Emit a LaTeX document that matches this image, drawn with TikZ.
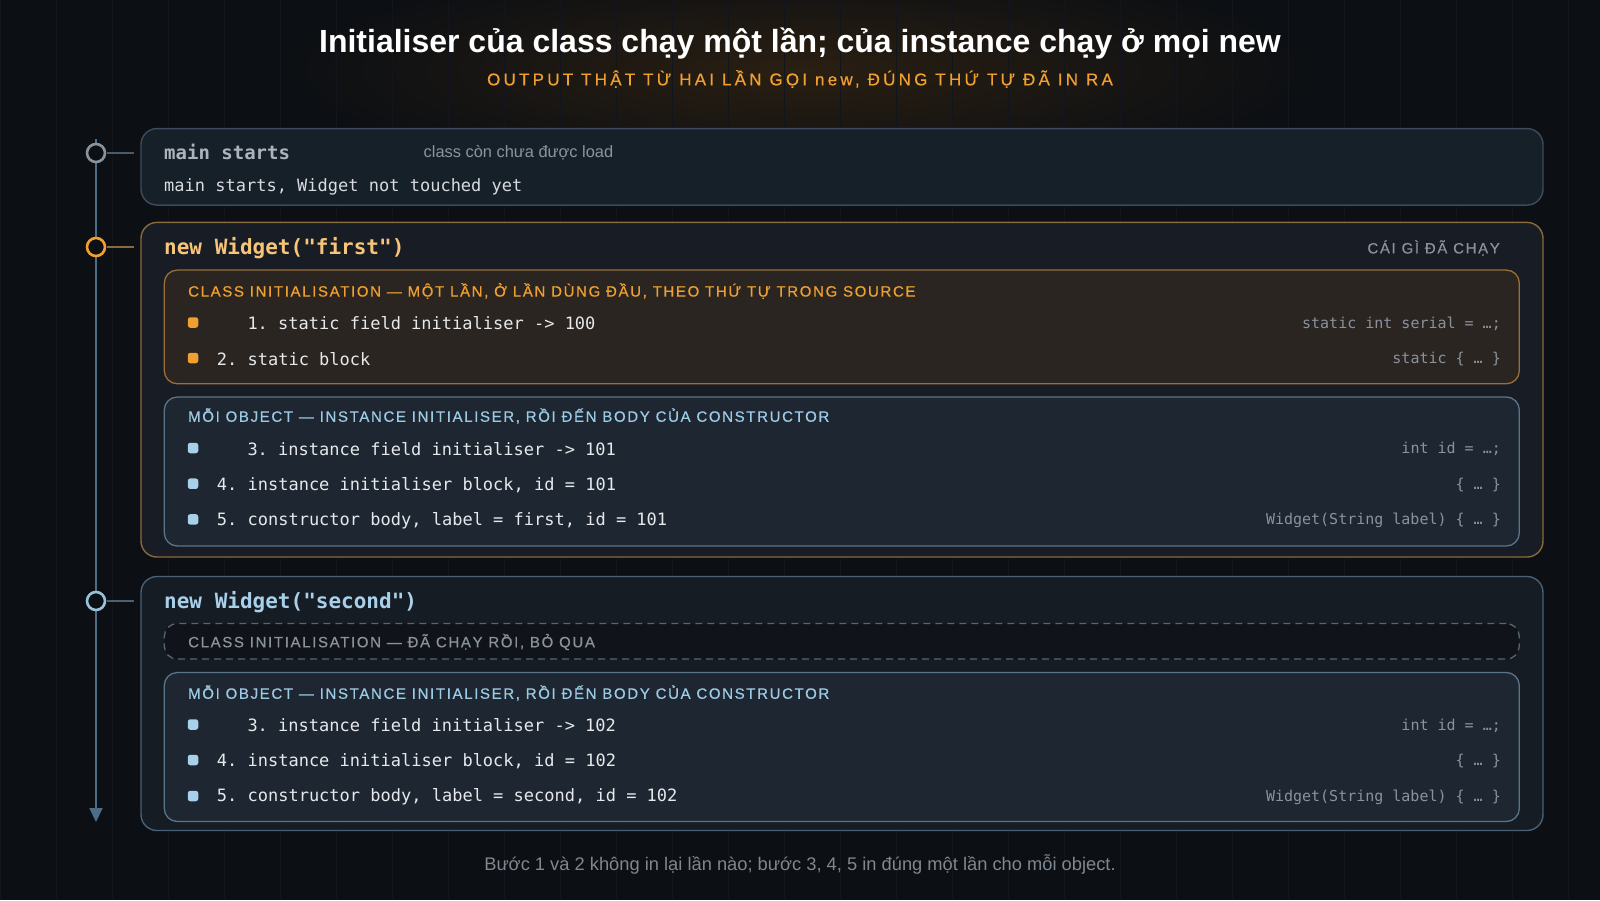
\documentclass[tikz,border=0pt]{standalone}
\usepackage{fontspec}
\setmainfont{Liberation Sans}
\setmonofont{DejaVu Sans Mono}
\newfontfamily\capsfont[LetterSpace=11,FakeBold=0.5]{Liberation Sans}
\newfontfamily\subfont[LetterSpace=19,FakeBold=0.5]{Liberation Sans}
\usetikzlibrary{arrows.meta}

\definecolor{bg}{HTML}{0C0F13}
\definecolor{gridc}{HTML}{12161C}
\definecolor{glow}{HTML}{2A1F12}
\definecolor{orange}{HTML}{F0A030}
\definecolor{paleorange}{HTML}{F6C57A}
\definecolor{paleblue}{HTML}{A8D0EA}
\definecolor{bluelabel}{HTML}{9CCBE6}
\definecolor{rowtext}{HTML}{E6E8EB}
\definecolor{codegrey}{HTML}{8A929C}
\definecolor{notegrey}{HTML}{8C949E}
\definecolor{linec}{HTML}{4C6D88}
\definecolor{boxafill}{HTML}{162029}
\definecolor{boxaline}{HTML}{3C4C5C}
\definecolor{boxbfill}{HTML}{181C24}
\definecolor{boxbline}{HTML}{8A6A3C}
\definecolor{ofill}{HTML}{2A2521}
\definecolor{oline}{HTML}{9A6E36}
\definecolor{bfill}{HTML}{1E2731}
\definecolor{bline}{HTML}{5A7488}
\definecolor{boxcfill}{HTML}{161C24}
\definecolor{boxcline}{HTML}{4A6074}
\definecolor{dline}{HTML}{5A6470}

\begin{document}
\begin{tikzpicture}[x=1pt,y=-1pt,
  panel/.style={draw, rounded corners=16pt, line width=1.4pt, minimum width=1402pt, inner sep=0pt},
  inner/.style={draw, rounded corners=13pt, line width=1.3pt, minimum width=1355pt, inner sep=0pt},
  dot/.style={shape=circle, draw, fill=bg, line width=2.6pt, minimum size=18pt, inner sep=0pt},
  bullet/.style={fill, rounded corners=2.5pt, minimum size=10.5pt, inner sep=0pt},
  row/.style={anchor=west, inner sep=0pt, yshift=-1pt, text=rowtext, font=\ttfamily\fontsize{17}{20}\selectfont},
  code/.style={anchor=east, inner sep=0pt, yshift=-1pt, text=codegrey, font=\ttfamily\fontsize{15}{18}\selectfont},
  tag/.style={anchor=west, inner sep=0pt, font=\capsfont\fontsize{15}{18}\selectfont}]

\useasboundingbox (0,0) rectangle (1600,900);
\fill[bg] (0,0) rectangle (1600,900);
\shade[inner color=glow, outer color=bg] (800,70) ellipse (520 and 110);
\draw[gridc, line width=0.6pt] (0,0) grid[step=56] (1600,900);

% title
\node[inner sep=0pt, text=white, font=\bfseries\fontsize{32}{37}\selectfont] (title) at (800,44) {Initialiser của class chạy một lần; của instance chạy ở mọi new};
\node[inner sep=0pt, text=orange, font=\subfont\fontsize{17}{20}\selectfont] (subtitle) at (800,79) {OUTPUT THẬT TỪ HAI LẦN GỌI new, ĐÚNG THỨ TỰ ĐÃ IN RA};

% panels
\node[panel, fill=boxafill, draw=boxaline, minimum height=76.5pt] (mainbox) at (842,166.8) {};
\node[panel, fill=boxbfill, draw=boxbline, minimum height=334.6pt] (firstbox) at (842,389.7) {};
\node[inner, fill=ofill, draw=oline, minimum height=113.7pt] (firstclass) at (841.8,326.9) {};
\node[inner, fill=bfill, draw=bline, minimum height=149pt] (firstobj) at (841.8,471.5) {};
\node[panel, fill=boxcfill, draw=boxcline, minimum height=254pt] (secondbox) at (842,703.5) {};
\node[inner, fill=bg!60!boxcfill, draw=dline, dashed, dash pattern=on 7pt off 5pt, minimum height=35.5pt] (secondclass) at (841.8,641.3) {};
\node[inner, fill=bfill, draw=bline, minimum height=149pt] (secondobj) at (841.8,747) {};

% timeline
\coordinate (tltop) at (96,139);
\coordinate (tlend) at (96,822);
\draw[linec, line width=2pt, -{Triangle[width=13pt,length=14pt]}] (tltop) -- (tlend);
\node[dot, draw=codegrey] (dmain) at (96,153) {};
\node[dot, draw=orange] (dfirst) at (96,247) {};
\node[dot, draw=paleblue!85!linec] (dsecond) at (96,601) {};
\draw[boxaline!80!codegrey, line width=1.6pt, shorten <=1pt, shorten >=6pt] (dmain) -- (dmain -| mainbox.west);
\draw[boxbline, line width=1.6pt, shorten <=1pt, shorten >=6pt] (dfirst) -- (dfirst -| firstbox.west);
\draw[boxcline, line width=1.6pt, shorten <=1pt, shorten >=6pt] (dsecond) -- (dsecond -| secondbox.west);

% main starts
\node[anchor=west, inner sep=0pt, text=codegrey!70!white, font=\ttfamily\bfseries\fontsize{19}{22}\selectfont] (mainhead) at (164,152) {main starts};
\node[anchor=west, inner sep=0pt, text=notegrey, font=\fontsize{16.4}{19}\selectfont] (mainnote) at (423.5,153) {class còn chưa được load};
\node[row, text=rowtext!85!codegrey] (mainrow) at (164,186) {main starts, Widget not touched yet};

% first
\node[anchor=west, inner sep=0pt, text=paleorange, font=\ttfamily\bfseries\fontsize{21}{24}\selectfont] (firsthead) at (164,248) {new Widget("first")};
\node[anchor=east, inner sep=0pt, text=codegrey, font=\capsfont\fontsize{15}{18}\selectfont] (ranlabel) at (1500,248) {CÁI GÌ ĐÃ CHẠY};
\node[tag, text=orange] (firstclasstag) at (188,291) {CLASS INITIALISATION — MỘT LẦN, Ở LẦN DÙNG ĐẦU, THEO THỨ TỰ TRONG SOURCE};
\node[bullet, orange] (fa) at (193,322.5) {};
\node[row] (farow) at (247.3,322.5) {1. static field initialiser -> 100};
\node[code] (facode) at (1501,322.5) {static int serial = …;};
\node[bullet, orange] (fb) at (193,358) {};
\node[row] (fbrow) at (216.7,358) {2. static block};
\node[code] (fbcode) at (1501,358) {static \{ … \}};
\node[tag, text=bluelabel] (firstobjtag) at (188,416) {MỖI OBJECT — INSTANCE INITIALISER, RỒI ĐẾN BODY CỦA CONSTRUCTOR};
\node[bullet, paleblue] (fc) at (193,448) {};
\node[row] (fcrow) at (247.3,448) {3. instance field initialiser -> 101};
\node[code] (fccode) at (1501,448) {int id = …;};
\node[bullet, paleblue] (fd) at (193,483.7) {};
\node[row] (fdrow) at (216.7,483.7) {4. instance initialiser block, id = 101};
\node[code] (fdcode) at (1501,483.7) {\{ … \}};
\node[bullet, paleblue] (fe) at (193,519.4) {};
\node[row] (ferow) at (216.7,519.4) {5. constructor body, label = first, id = 101};
\node[code] (fecode) at (1501,519.4) {Widget(String label) \{ … \}};

% second
\node[anchor=west, inner sep=0pt, text=paleblue, font=\ttfamily\bfseries\fontsize{21}{24}\selectfont] (secondhead) at (164,602) {new Widget("second")};
\node[tag, text=codegrey] (secondclasstag) at (188,642) {CLASS INITIALISATION — ĐÃ CHẠY RỒI, BỎ QUA};
\node[tag, text=bluelabel] (secondobjtag) at (188,693) {MỖI OBJECT — INSTANCE INITIALISER, RỒI ĐẾN BODY CỦA CONSTRUCTOR};
\node[bullet, paleblue] (sc) at (193,724.5) {};
\node[row] (scrow) at (247.3,724.5) {3. instance field initialiser -> 102};
\node[code] (sccode) at (1501,724.5) {int id = …;};
\node[bullet, paleblue] (sd) at (193,760) {};
\node[row] (sdrow) at (216.7,760) {4. instance initialiser block, id = 102};
\node[code] (sdcode) at (1501,760) {\{ … \}};
\node[bullet, paleblue] (se) at (193,796) {};
\node[row] (serow) at (216.7,796) {5. constructor body, label = second, id = 102};
\node[code] (secode) at (1501,796) {Widget(String label) \{ … \}};

% footnote
\node[inner sep=0pt, text=notegrey!90!bg, font=\fontsize{18.3}{21}\selectfont] (footer) at (800,864) {Bước 1 và 2 không in lại lần nào; bước 3, 4, 5 in đúng một lần cho mỗi object.};
\end{tikzpicture}
\end{document}
